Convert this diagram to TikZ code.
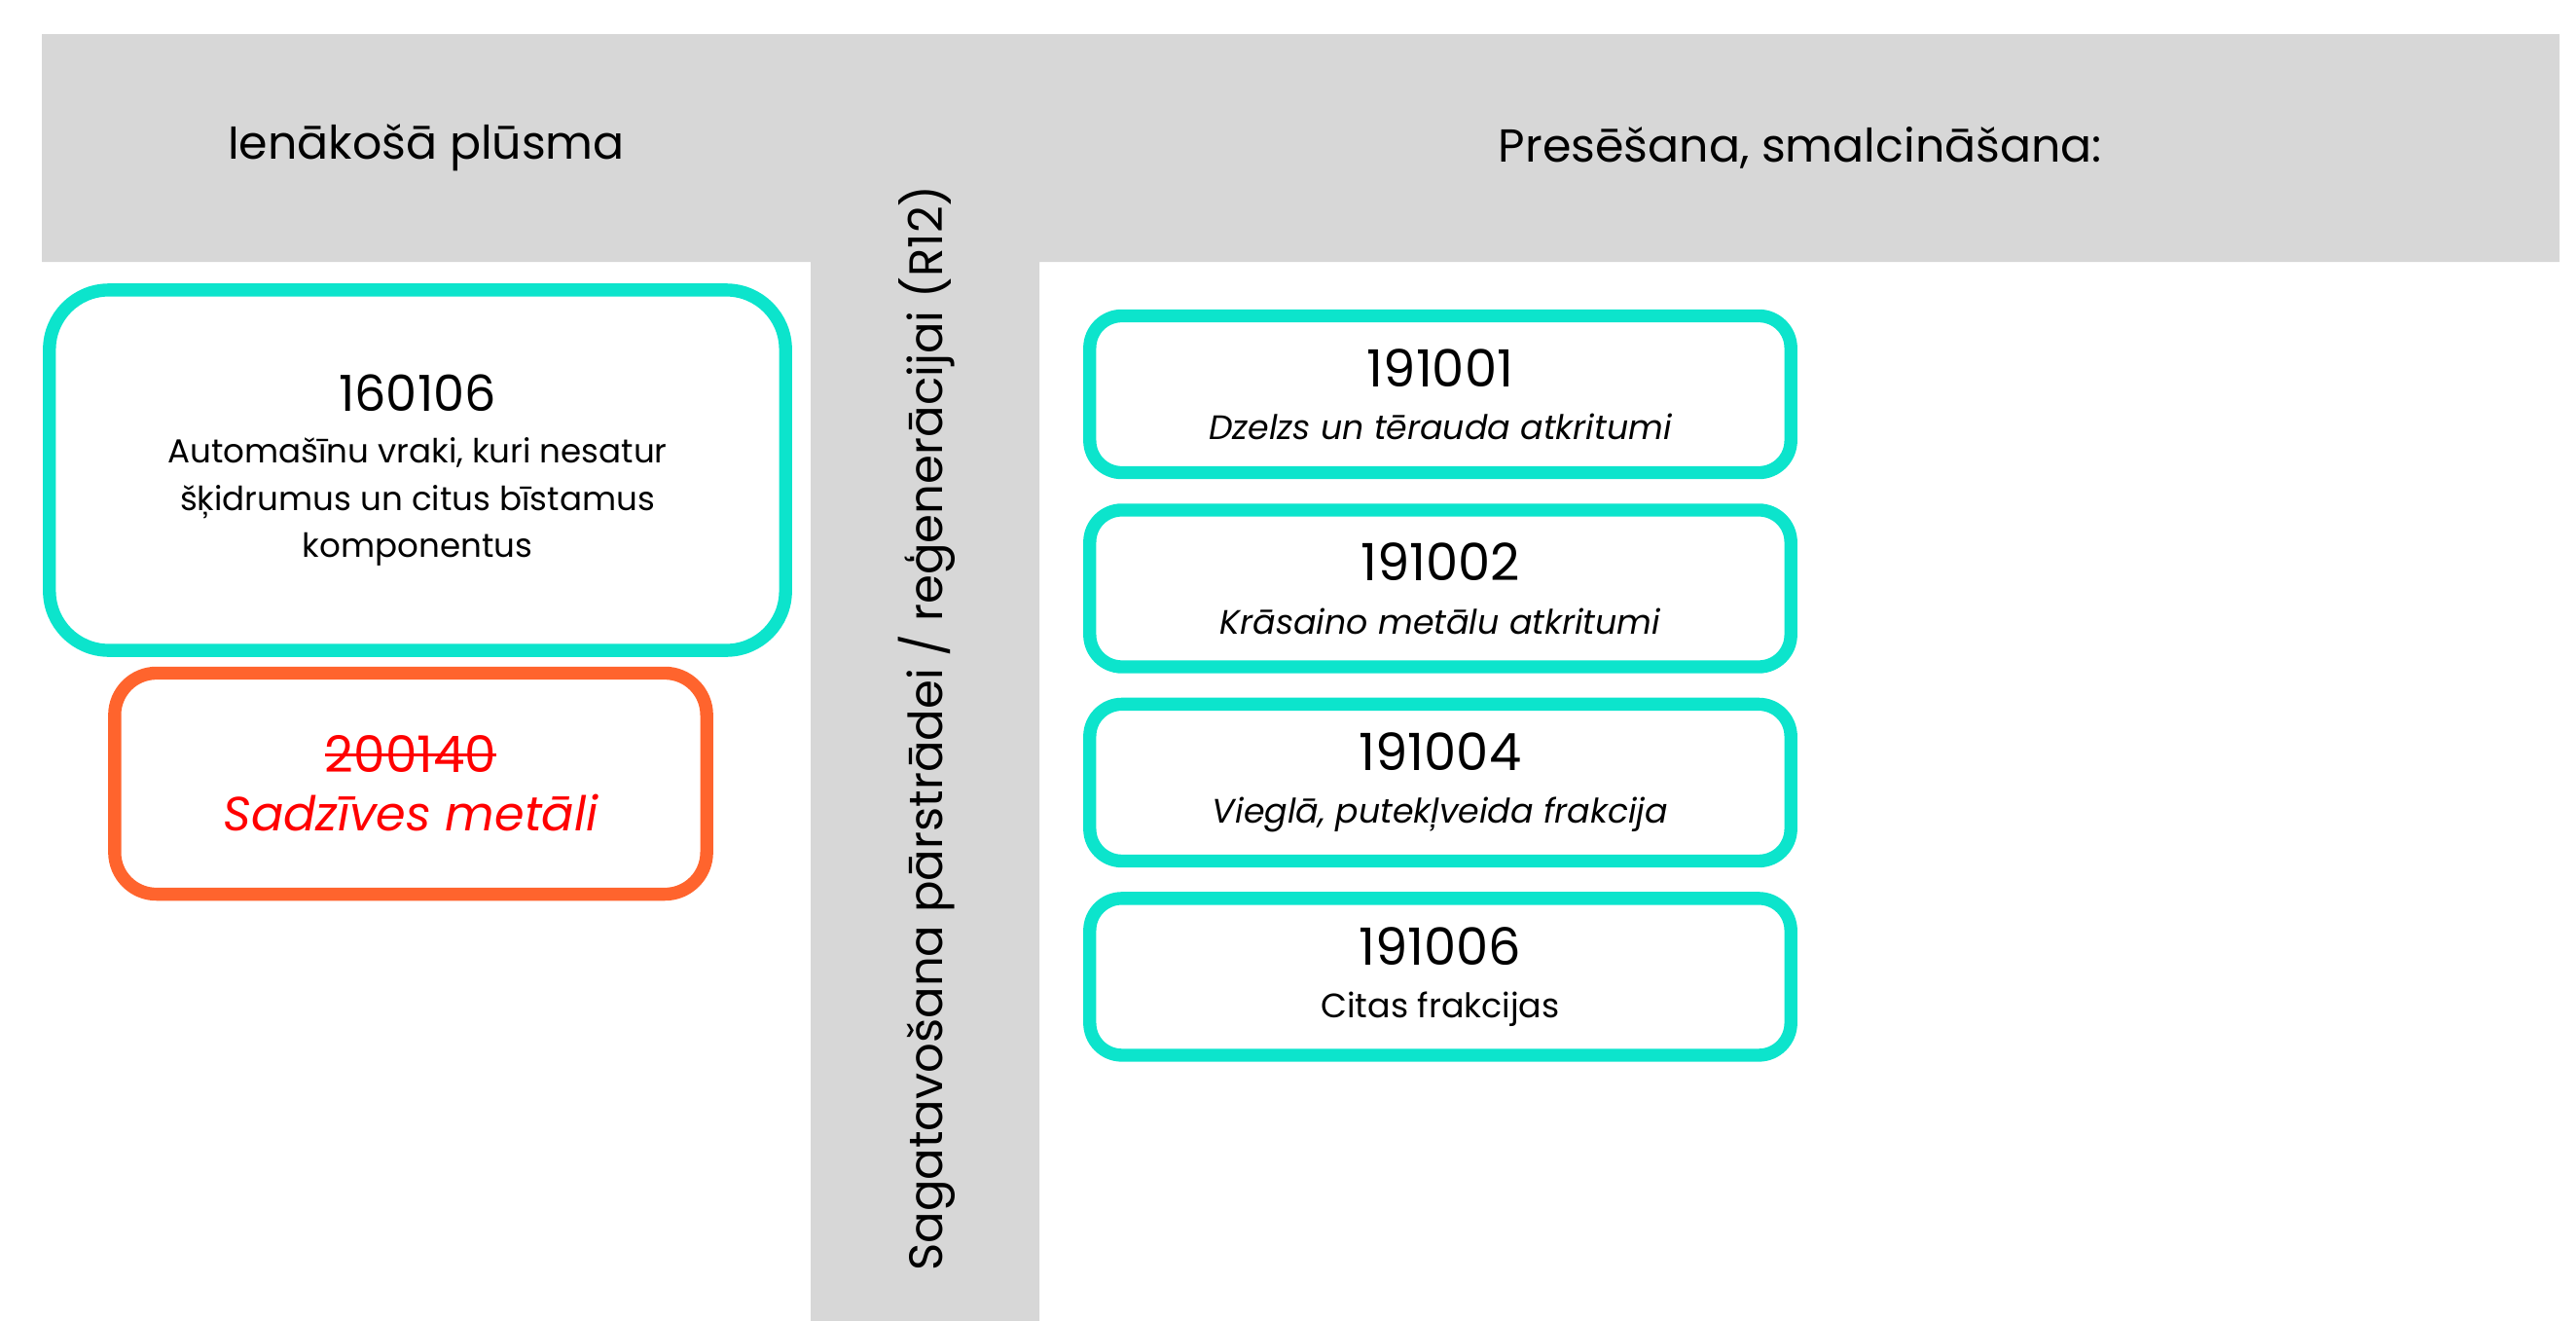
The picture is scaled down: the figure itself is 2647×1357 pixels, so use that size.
\documentclass[tikz,border=0pt]{standalone}
\usepackage{fontspec}
\setmainfont{Poppins}
\usetikzlibrary{positioning}
\definecolor{flowteal}{RGB}{12,228,204}
\definecolor{floworange}{RGB}{255,100,45}
\definecolor{flowgray}{RGB}{215,215,215}
\newsavebox{\crossbox}
\newcommand{\crossout}[1]{\sbox{\crossbox}{#1}%
	\rlap{\rule[0.33em]{\wd\crossbox}{0.9pt}}\usebox{\crossbox}}
\tikzset{accepted/.style={
		% The shape:
		rectangle,rounded corners=0.33cm,
		% The size:
		minimum width=7.2cm,minimum height=1.61cm,
		% The border:
		line width=3.8pt,draw=flowteal,
		% make sure text is centered
		align=center,inner sep=0pt,
}}
\tikzset{rejected/.style={
		% The shape:
		rectangle,rounded corners=0.43cm,
		% The size:
		minimum width=6.08cm,minimum height=2.27cm,
		% The rest
		line width=3.8pt,draw=floworange,text=red,
		align=center,inner sep=0pt,
}}
\tikzset{heading/.style={font=\fontsize{13.5}{17}\selectfont}}

\begin{document}
\begin{tikzpicture}[x=0.01cm,y=-0.01cm,text=black,
	node distance=0.25cm]
	\useasboundingbox (0,0) rectangle (2647,1357);
	% grey T-shaped band
	\fill [flowgray] (43,35) -- (2630,35) -- (2630,269) -- (1068,269)
		-- (1068,1357) -- (833,1357) -- (833,269) -- (43,269) -- cycle;
	\node [heading] (inflow) at (438,152) {Ienākošā plūsma};
	\node [heading] (press) at (1850,152) {Presēšana, smalcināšana:};
	\node [heading,font=\fontsize{13.7}{17}\selectfont,rotate=90] (prep) at (952,748)
		{Sagatavošana pārstrādei / reģenerācijai (R12)};
	% incoming waste
	\node [accepted,rounded corners=0.61cm,minimum width=7.56cm,minimum height=3.7cm,
		font=\fontsize{9.7}{13.7}\selectfont]
		(c160106) at (429,483)
		{{\fontsize{14.5}{20}\selectfont 160106}\\[1.5pt]
		Automašīnu vraki, kuri nesatur\\
		šķidrumus un citus bīstamus\\
		komponentus};
	\node [rejected] (c200140) at (422,805)
		{{\fontsize{14.7}{20}\selectfont\crossout{200140}}\\[5pt]
		\fontsize{14}{18}\selectfont\itshape Sadzīves metāli};
	% outgoing fractions
	\node [accepted] (c191001) at (1480,405)
		{{\fontsize{15}{18}\selectfont 191001}\\[3.5pt]
		\fontsize{9.9}{13}\selectfont\itshape Dzelzs un tērauda atkritumi};
	\node [accepted,below=of c191001] (c191002)
		{{\fontsize{15}{18}\selectfont 191002}\\[3.5pt]
		\fontsize{9.9}{13}\selectfont\itshape Krāsaino metālu atkritumi};
	\node [accepted,below=of c191002] (c191004)
		{{\fontsize{15}{18}\selectfont 191004}\\[3.5pt]
		\fontsize{9.9}{13}\selectfont\itshape Vieglā, putekļveida frakcija};
	\node [accepted,below=of c191004] (c191006)
		{{\fontsize{15}{18}\selectfont 191006}\\[3.5pt]
		\fontsize{9.9}{13}\selectfont Citas frakcijas};
\end{tikzpicture}
\end{document}
